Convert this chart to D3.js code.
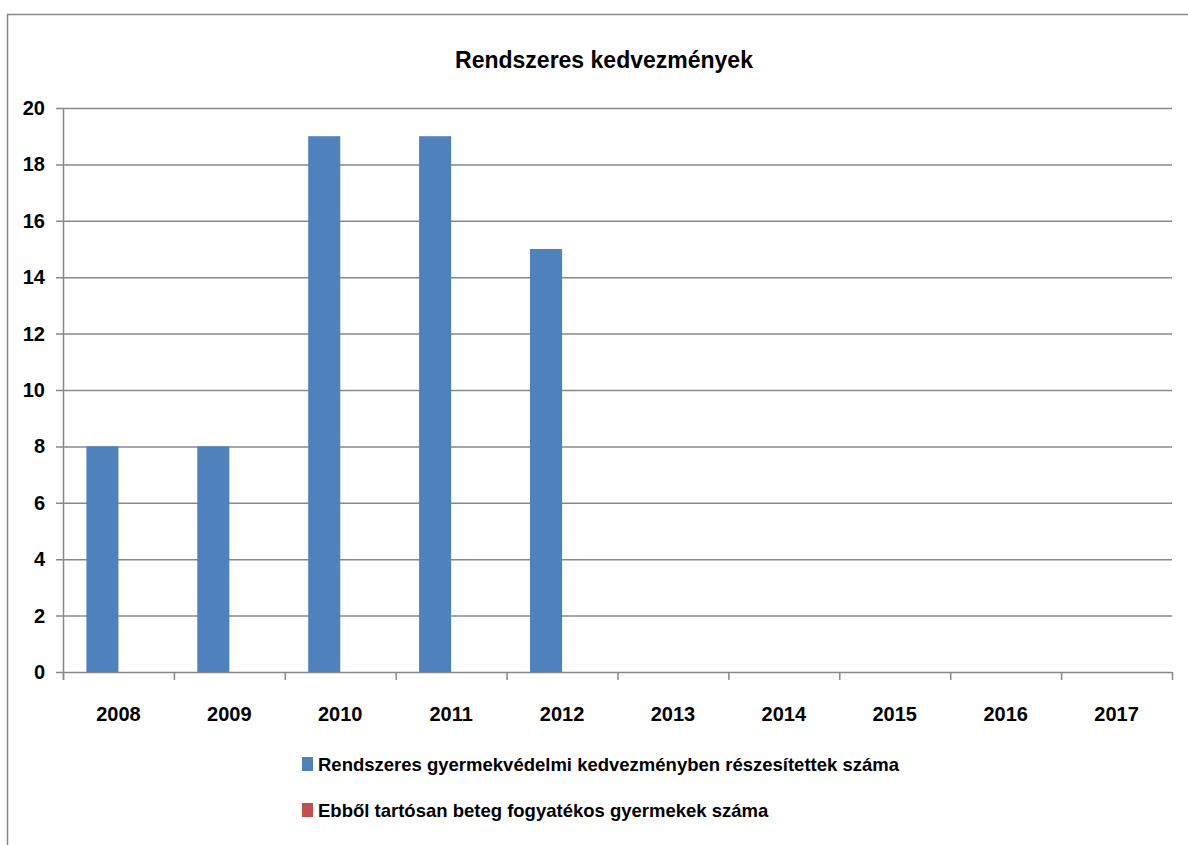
<!DOCTYPE html>
<html><head><meta charset="utf-8">
<script src="https://cdn.jsdelivr.net/npm/d3@7"></script>
<style>body{margin:0;background:#fff;} svg{display:block;} text{font-family:"Liberation Sans",sans-serif;font-weight:bold;fill:#000;}</style>
</head><body>
<svg id="c" width="1188" height="845"></svg>
<script>
const title = "Rendszeres kedvezmények";
const years = ["2008","2009","2010","2011","2012","2013","2014","2015","2016","2017"];
const seriesNames = ["Rendszeres gyermekvédelmi kedvezményben részesítettek száma","Ebből tartósan beteg fogyatékos gyermekek száma"];
const seriesColors = ["#4F81BD","#C0504D"];
const values1 = [8,8,19,19,15,0,0,0,0,0];
const values2 = [0,0,0,0,0,0,0,0,0,0];
const yTicks = [0,2,4,6,8,10,12,14,16,18,20];

const svg = d3.select("#c");
const L=63,R=1172,T=108,B=672;
svg.append("path").attr("d","M7.5,845 V14.5 H1188").attr("fill","none").attr("stroke","#888").attr("stroke-width",1.5);
svg.append("text").attr("x",604).attr("y",68).attr("text-anchor","middle").style("font-size","23px").text(title);

const x = d3.scaleBand().domain(years).range([L,R]).paddingInner(0).paddingOuter(0);
const inner = d3.scaleBand().domain([0,1]).range([0,x.bandwidth()]).paddingInner(0.0).paddingOuter(0.73);
const y = d3.scaleLinear().domain([0,20]).range([B,T]);

svg.append("g").selectAll("line").data(yTicks).join("line")
  .attr("x1",56).attr("x2",R).attr("y1",d=>y(d)+0.5).attr("y2",d=>y(d)+0.5)
  .attr("stroke","#888").attr("stroke-width",1.5);
svg.append("line").attr("x1",L+0.5).attr("x2",L+0.5).attr("y1",T).attr("y2",B+8).attr("stroke","#888").attr("stroke-width",1.5);
const xt = years.map((d,i)=>L+i*x.step()).concat([R]);
svg.append("g").selectAll("line").data(xt).join("line")
  .attr("x1",d=>d+0.5).attr("x2",d=>d+0.5).attr("y1",B).attr("y2",B+8).attr("stroke","#888").attr("stroke-width",1.5);
svg.append("g").selectAll("text").data(yTicks).join("text")
  .attr("x",45).attr("y",d=>y(d)+7).attr("text-anchor","end").style("font-size","20px").text(d=>d);
svg.append("g").selectAll("text").data(years).join("text")
  .attr("x",d=>x(d)+x.bandwidth()/2).attr("y",721).attr("text-anchor","middle").style("font-size","20px").text(d=>d);

[values1,values2].forEach((vals,si)=>{
  svg.append("g").selectAll("rect").data(vals).join("rect")
    .attr("x",(d,i)=>x(years[i])+inner(si)).attr("width",inner.bandwidth())
    .attr("y",d=>y(d)).attr("height",d=>B-y(d)).attr("fill",seriesColors[si]);
});

const lg = svg.append("g");
seriesNames.forEach((n,i)=>{
  const ly = 764 + i*46;
  lg.append("rect").attr("x",302).attr("y",ly-7).attr("width",11).attr("height",14).attr("fill",seriesColors[i]);
  lg.append("text").attr("x",318).attr("y",ly+7).style("font-size","18.5px").text(n);
});
</script>
</body></html>
